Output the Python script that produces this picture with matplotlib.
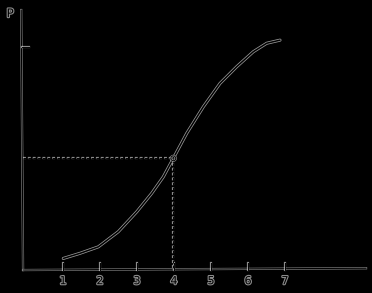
import numpy as np
import matplotlib
matplotlib.use("Agg")
import matplotlib.pyplot as plt
import matplotlib.patheffects as pe

# curve (x in tick units, P scaled so the mark on the axis = 1)
xs = [1.008, 1.459, 1.954, 2.495, 2.992, 3.397, 3.711, 3.981, 4.343, 4.792,
      5.243, 5.695, 6.143, 6.505, 6.865]
ps = [0.052, 0.075, 0.104, 0.172, 0.261, 0.344, 0.418, 0.501, 0.613, 0.732,
      0.837, 0.912, 0.979, 1.017, 1.031]
ticks = [1, 2, 3, 4, 5, 6, 7]
x_mark = 3.981
p_mark = 0.501

ink = "black"
halo = [pe.Stroke(linewidth=2.2, foreground="white", alpha=0.6), pe.Normal()]
halo_thin = [pe.Stroke(linewidth=1.6, foreground="white", alpha=0.55), pe.Normal()]

fig = plt.figure(figsize=(3.72, 2.93), dpi=100)
fig.patch.set_facecolor("black")
ax = fig.add_axes([0, 0, 1, 1])
ax.set_facecolor("black")
ax.set_xlim(-0.703, 9.351)
ax.set_ylim(-0.103, 1.211)
ax.axis("off")

# axes drawn by hand
x0 = -0.08
ax.plot([x0 - 0.05, x0], [1.166, 0.0], color=ink, lw=0.8, path_effects=halo_thin)
ax.plot([x0, 9.19], [0.0, 0.008], color=ink, lw=0.8, path_effects=halo_thin)
ax.plot([x0 - 0.03, x0 + 0.15], [1.0, 1.0], color=ink, lw=0.7, path_effects=halo_thin)
for t in ticks:
    ax.plot([t, t], [0.0, 0.03], color=ink, lw=0.7, path_effects=halo_thin)
    ax.text(t, -0.05, str(t), ha="center", va="center", fontsize=8,
            color=ink, path_effects=halo_thin)
ax.text(-0.43, 1.15, "P", ha="center", va="center", fontsize=8.5,
        color=ink, path_effects=halo_thin)

# curve
ax.plot(xs, ps, color=ink, lw=1.1, solid_capstyle="round",
        solid_joinstyle="round", path_effects=halo)

# dashed guides to the marked point
ax.plot([x0, x_mark], [p_mark, p_mark], color=ink, lw=0.7, ls=(0, (3, 2)),
        path_effects=halo_thin)
ax.plot([x_mark, x_mark], [p_mark, 0.0], color=ink, lw=0.7, ls=(0, (3, 2)),
        path_effects=halo_thin)
ax.plot([x_mark], [p_mark], marker="o", ms=3.5, mfc="none", mec=ink, mew=0.7,
        path_effects=halo_thin)

fig.savefig("out.png", dpi=100, facecolor="black")
